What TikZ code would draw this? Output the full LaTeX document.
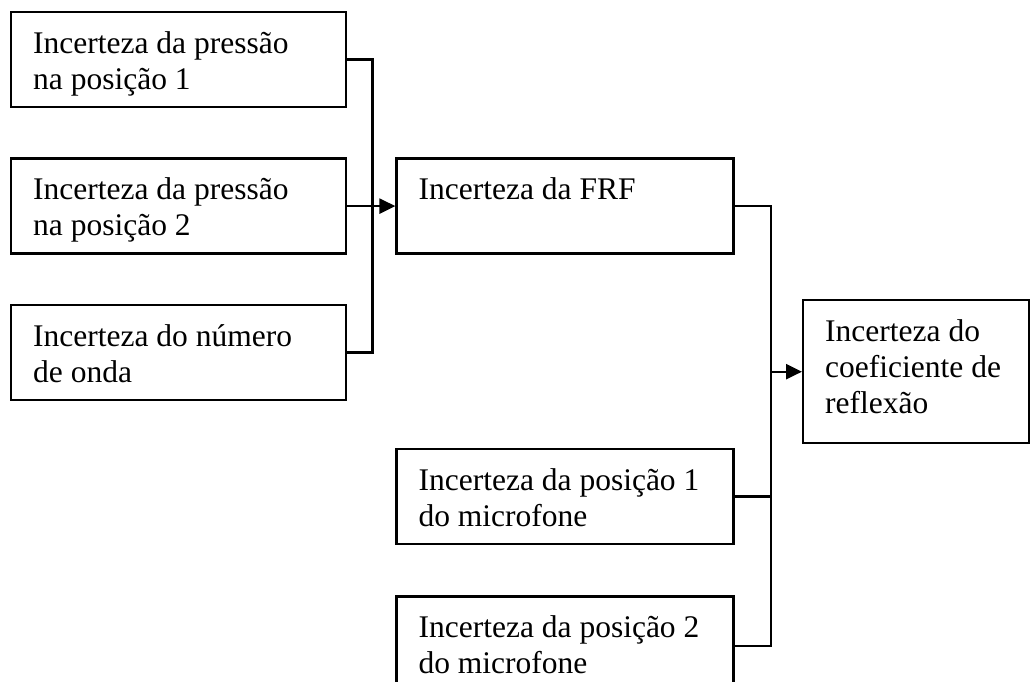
\documentclass[tikz,border=0pt]{standalone}
\usepackage{fontspec}
\setmainfont{Liberation Serif}
\usetikzlibrary{positioning, arrows.meta, calc}

\newcommand{\boxtext}[3]{\parbox[c][#2][t]{#1}{\raggedright\rule{0pt}{41pt}#3}}

\begin{document}
\begin{tikzpicture}[
        x=1pt, y=1pt,
        box/.style={draw, line width=2.4pt, inner xsep=22pt, inner ysep=0pt, font=\fontsize{31.5}{36}\selectfont},
        link/.style={line width=2.4pt},
        arrow/.style={line width=2.4pt, -{Triangle[length=16pt, width=15pt]}}
    ]
    \useasboundingbox (0,0) rectangle (1031,-682);
    \clip (0,0) rectangle (1031,-682);

    \node[box, anchor=north west] (P1) at (10,-11) {\boxtext{291pt}{95pt}{Incerteza da pressão\\na posição 1}};
    \node[box, below=49pt of P1] (P2) {\boxtext{291pt}{95pt}{Incerteza da pressão\\na posição 2}};
    \node[box, below=49pt of P2] (Onda) {\boxtext{291pt}{95pt}{Incerteza do número\\de onda}};

    \node[box, right=48pt of P2] (FRF) {\boxtext{293pt}{95pt}{Incerteza da FRF}};
    \node[box, below=193pt of FRF] (Mic1) {\boxtext{293pt}{95pt}{Incerteza da posição 1\\do microfone}};
    \node[box, below=50pt of Mic1, anchor=north] (Mic2) {\boxtext{293pt}{99pt}{Incerteza da posição 2\\do microfone}};

    \node[box, anchor=north west] (Coef) at (802,-299) {\boxtext{182pt}{143pt}{Incerteza do\\coeficiente de\\reflexão}};

    \coordinate (busL) at ($(P1.east)+(25,0)$);
    \coordinate (busR) at ($(FRF.east)+(36,0)$);

    \draw[link] (P1.east) -- (busL) |- (Onda.east);
    \draw[arrow] (P2.east) -- (FRF.west);

    \draw[link] (FRF.east) -- (busR) |- (Mic2.east);
    \draw[link] (Mic1.east) -- (Mic1.east -| busR);
    \draw[arrow] (busR |- Coef.west) -- (Coef.west);

\end{tikzpicture}
\end{document}
